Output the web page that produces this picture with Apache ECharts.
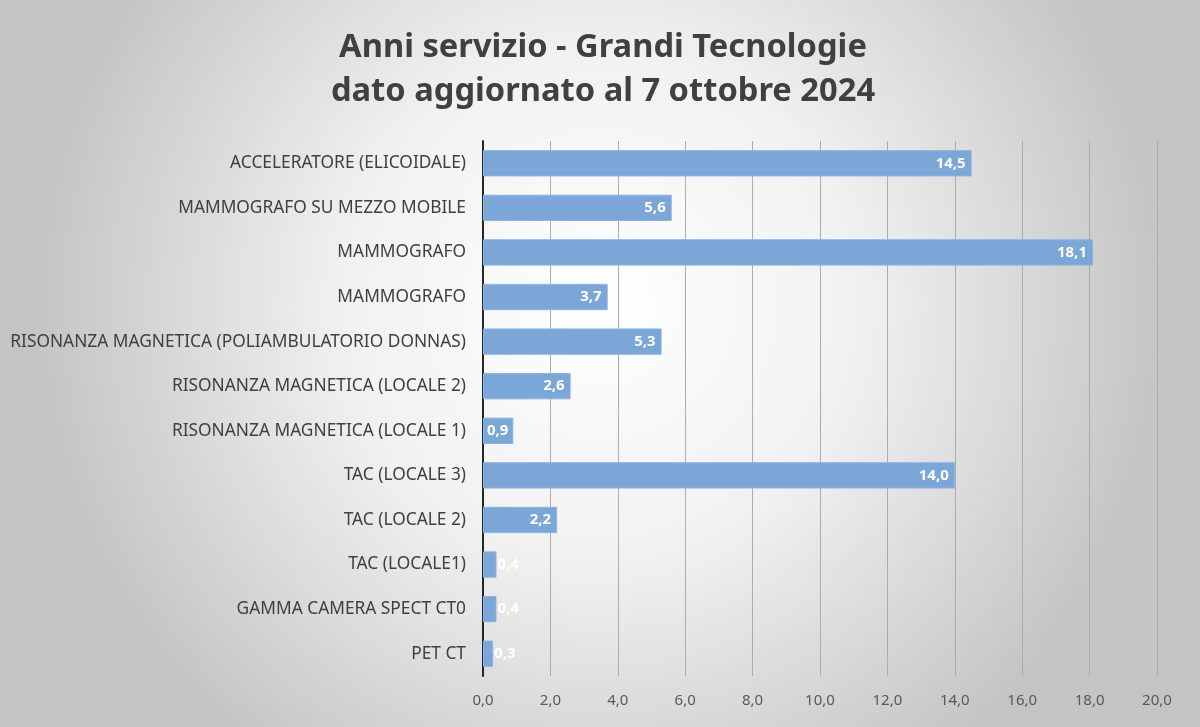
<!DOCTYPE html>
<html><head><meta charset="utf-8">
<script src="https://cdn.jsdelivr.net/npm/echarts@6/dist/echarts.min.js"></script>
<style>html,body{margin:0;padding:0;}#c{width:1200px;height:727px;}</style>
</head><body><div id="c"></div>
<script>
const categories = [
  'ACCELERATORE (ELICOIDALE)',
  'MAMMOGRAFO SU MEZZO MOBILE',
  'MAMMOGRAFO',
  'MAMMOGRAFO',
  'RISONANZA MAGNETICA (POLIAMBULATORIO DONNAS)',
  'RISONANZA MAGNETICA (LOCALE 2)',
  'RISONANZA MAGNETICA (LOCALE 1)',
  'TAC (LOCALE 3)',
  'TAC (LOCALE 2)',
  'TAC (LOCALE1)',
  'GAMMA CAMERA SPECT CT0',
  'PET CT'
];
const values = [14.5, 5.6, 18.1, 3.7, 5.3, 2.6, 0.9, 14.0, 2.2, 0.4, 0.4, 0.3];
const xTicks = { min: 0, max: 20, interval: 2 };
const titleLines = ['Anni servizio - Grandi Tecnologie', 'dato aggiornato al 7 ottobre 2024'];

function fmt(v){ return Number(v).toFixed(1).replace('.', ','); }

// fit font sizes to reference text widths
const cv = document.createElement('canvas').getContext('2d');
function fit(text, family, weight, target){
  cv.font = weight + ' 100px ' + family;
  return 100 * target / cv.measureText(text).width;
}
const FAM = '"Noto Sans", sans-serif';
const labelSize = fit(categories[4], FAM, 'normal', 456);
const titleSize = fit(titleLines[0], FAM, 'bold', 528);

const data = values.map(function(v){
  let lab;
  if (v < 0.6) lab = { position: 'right', distance: 1 };
  else if (v < 1.5) lab = { position: 'insideLeft', distance: 4 };
  else lab = { position: 'insideRight', distance: 6 };
  return { value: v, label: lab };
});

const chart = echarts.init(document.getElementById('c'));
chart.setOption({
  backgroundColor: {
    type: 'radial', x: 0.5, y: 0.42, r: 0.78,
    colorStops: [{offset: 0, color: '#ffffff'}, {offset: 0.45, color: '#f1f1f1'}, {offset: 1, color: '#c4c4c4'}]
  },
  title: {
    text: titleLines.join('\n'),
    left: 598, top: 21, textAlign: 'center',
    textStyle: { fontFamily: FAM, fontWeight: 'bold', fontSize: titleSize, color: '#404040', lineHeight: 44 }
  },
  grid: { left: 483, right: 43, top: 141, bottom: 51, containLabel: false },
  xAxis: {
    type: 'value', min: xTicks.min, max: xTicks.max, interval: xTicks.interval,
    axisLine: { show: false }, axisTick: { show: false },
    splitLine: { show: true, lineStyle: { color: '#acacac', width: 1 } },
    axisLabel: { formatter: fmt, color: '#595959', fontFamily: FAM, fontSize: 15, margin: 17 }
  },
  yAxis: {
    type: 'category', data: categories, inverse: true,
    axisLine: { show: true, lineStyle: { color: '#262626', width: 2 } },
    axisTick: { show: false },
    axisLabel: { color: '#404040', fontFamily: FAM, fontSize: labelSize, margin: 17 }
  },
  series: [{
    type: 'bar', data: data, barCategoryGap: '41%',
    itemStyle: { color: '#7ba7d8', borderColor: '#8db3de', borderWidth: 1 },
    label: { show: true, formatter: function(p){ return fmt(p.value); }, color: '#ffffff', fontWeight: 'bold', fontFamily: FAM, fontSize: 15 }
  }]
});
</script></body></html>
